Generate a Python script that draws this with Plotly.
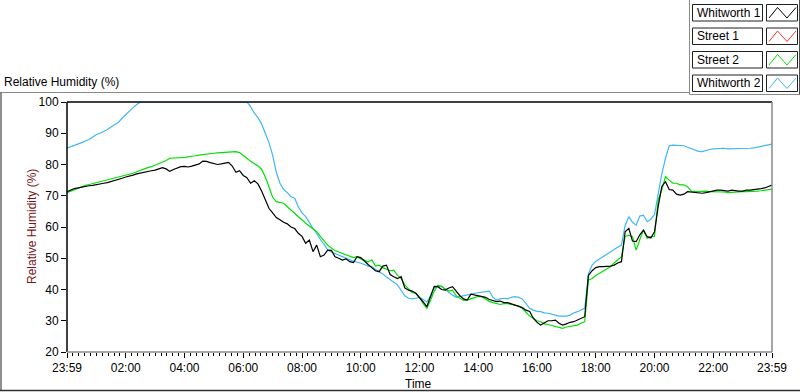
import plotly.graph_objects as go

# ---------------- data ----------------
hours = [i * 0.125 for i in range(193)]  # 0 h .. 24 h in 7.5-minute steps
tick_hours = [0, 2, 4, 6, 8, 10, 12, 14, 16, 18, 20, 22, 24]
tick_labels = ["23:59", "02:00", "04:00", "06:00", "08:00", "10:00", "12:00",
               "14:00", "16:00", "18:00", "20:00", "22:00", "23:59"]
y_ticks = [20, 30, 40, 50, 60, 70, 80, 90, 100]
series_names = ["Whitworth 1", "Street 1", "Street 2", "Whitworth 2"]

whitworth1 = [
    71.3, 71.8, 72.3, 72.5, 72.8, 72.9, 73.2, 73.3,
    73.6, 73.8, 74.0, 74.2, 74.5, 74.8, 75.2, 75.6,
    76.0, 76.2, 76.6, 77.0, 77.3, 77.5, 77.8, 78.0,
    78.2, 78.5, 79.0, 78.6, 77.8, 78.4, 78.8, 79.3,
    79.4, 79.2, 79.5, 79.8, 80.2, 81.1, 81.0, 80.6,
    80.4, 80.0, 80.2, 80.5, 80.7, 79.5, 77.5, 78.0,
    76.5, 75.8, 74.0, 74.8, 73.8, 71.5, 68.8, 66.0,
    64.5, 63.0, 62.3, 61.5, 61.0, 60.0, 59.5, 58.0,
    57.0, 54.8, 55.8, 52.1, 54.2, 50.5, 51.0, 52.6,
    52.5, 50.5, 50.0, 49.4, 49.8, 48.9, 48.6, 50.5,
    50.2, 49.0, 48.0, 47.0, 46.0, 45.7, 47.5, 47.8,
    44.8, 44.1, 43.5, 44.1, 40.5, 39.8, 39.5, 38.8,
    37.5, 36.0, 34.5, 38.0, 41.0, 40.9, 40.0, 39.8,
    40.5, 40.9, 39.5, 38.0, 37.0, 36.6, 38.5, 38.2,
    38.0, 37.7, 37.5, 36.8, 36.5, 36.1, 36.3, 35.8,
    35.8, 35.3, 35.0, 34.6, 34.2, 33.4, 33.0, 30.8,
    29.5, 28.6, 29.2, 30.0, 30.0, 30.2, 29.2, 28.6,
    29.0, 29.5, 29.7, 30.2, 30.8, 31.3, 44.5, 46.0,
    47.0, 47.3, 47.3, 47.3, 47.5, 47.8, 48.5, 48.9,
    58.5, 59.6, 55.5, 55.3, 57.5, 59.0, 56.9, 56.5,
    58.5, 66.5, 73.0, 74.5, 72.0, 71.8, 70.5, 70.2,
    70.5, 71.3, 71.2, 71.0, 70.8, 70.8, 71.0, 71.3,
    71.5, 71.8, 71.8, 71.6, 71.5, 71.8, 71.6, 71.5,
    71.5, 71.8, 71.8, 71.9, 72.0, 72.3, 72.5, 73.0,
    73.4,
]
street2 = [
    71.0, 71.5, 72.0, 72.5, 73.0, 73.3, 73.6, 73.9,
    74.2, 74.5, 74.8, 75.0, 75.3, 75.6, 76.0, 76.3,
    76.6, 76.9, 77.2, 77.7, 78.2, 78.6, 79.0, 79.3,
    79.8, 80.2, 80.6, 81.3, 82.0, 82.0, 82.2, 82.2,
    82.3, 82.4, 82.5, 82.8, 83.0, 83.2, 83.3, 83.5,
    83.6, 83.7, 83.8, 84.0, 84.0, 84.1, 84.1, 83.8,
    83.0, 82.0, 81.0, 80.3, 79.5, 78.5, 76.0, 72.9,
    69.5, 68.1, 67.8, 67.6, 66.5, 65.4, 64.3, 63.2,
    62.0, 61.2, 60.3, 59.4, 58.5, 57.0, 55.5, 54.2,
    53.3, 52.5, 52.0, 51.5, 51.0, 50.5, 50.2, 50.5,
    49.8, 49.4, 48.8, 49.5, 47.5, 47.8, 47.0, 46.5,
    46.0, 46.2, 44.5, 43.5, 41.5, 40.2, 39.0, 38.8,
    37.5, 35.5, 34.0, 36.5, 39.5, 41.4, 41.0, 40.2,
    39.5, 39.8, 38.0, 37.2, 36.5, 36.6, 37.0, 37.5,
    37.8, 37.7, 36.8, 36.2, 35.8, 35.6, 35.2, 35.5,
    35.5, 35.2, 35.0, 34.8, 34.0, 32.8, 31.5, 30.8,
    30.0, 29.7, 29.0, 28.8, 28.5, 28.0, 27.8, 27.6,
    28.0, 28.2, 28.3, 28.6, 29.2, 29.7, 43.0, 43.5,
    44.5, 45.2, 46.0, 46.6, 47.3, 48.5, 49.5, 50.5,
    57.0, 57.4, 56.9, 52.6, 56.0, 59.0, 56.4, 56.9,
    57.0, 68.6, 72.0, 76.1, 75.0, 74.0, 74.0, 73.5,
    73.5, 72.9, 71.5, 71.3, 71.3, 71.4, 71.5, 71.3,
    71.3, 71.3, 71.3, 71.2, 71.0, 71.1, 71.3, 71.3,
    71.3, 71.3, 71.3, 71.4, 71.5, 71.6, 71.8, 72.0,
    72.1,
]
whitworth2 = [
    85.2, 85.6, 86.0, 86.5, 87.0, 87.5, 88.0, 88.8,
    89.6, 90.0, 90.5, 91.2, 92.0, 92.8, 93.5, 94.8,
    96.0, 97.0, 98.2, 99.2, 100, 100, 100, 100,
    100, 100, 100, 100, 100, 100, 100, 100,
    100, 100, 100, 100, 100, 100, 100, 100,
    100, 100, 100, 100, 100, 100, 100, 100,
    100, 100, 98.5, 96.5, 95.0, 93.0, 90.0, 87.0,
    83.0, 77.5, 74.0, 72.0, 71.0, 69.7, 69.2, 66.5,
    64.5, 63.3, 61.5, 59.5, 58.0, 56.0, 54.5, 52.6,
    52.0, 51.5, 51.0, 50.3, 49.8, 49.4, 49.0, 48.8,
    48.5, 48.0, 47.5, 47.3, 46.5, 45.8, 45.0, 44.0,
    43.0, 42.3, 41.5, 39.8, 38.0, 37.2, 37.0, 37.2,
    37.5, 36.8, 36.0, 38.0, 40.5, 41.0, 41.0, 40.0,
    39.0, 38.2, 37.5, 37.7, 38.0, 38.2, 38.5, 38.8,
    39.0, 39.3, 39.3, 39.5, 37.5, 36.6, 37.0, 37.2,
    37.0, 37.5, 37.7, 37.5, 37.0, 35.5, 34.0, 33.4,
    33.0, 32.9, 32.5, 32.4, 32.0, 31.8, 31.5, 31.4,
    31.5, 31.8, 32.5, 32.9, 33.5, 34.0, 45.0, 47.8,
    49.0, 49.8, 50.5, 51.3, 52.0, 52.8, 53.5, 54.2,
    60.5, 63.3, 61.5, 60.6, 63.5, 63.8, 61.7, 62.5,
    64.0, 70.8, 77.0, 82.0, 86.0, 86.2, 86.2, 86.2,
    86.0, 85.5, 85.0, 84.6, 84.2, 84.1, 84.5, 84.8,
    85.0, 85.1, 85.2, 85.2, 85.0, 85.0, 85.0, 85.1,
    85.2, 85.2, 85.2, 85.3, 85.5, 85.7, 86.0, 86.3,
    86.5,
]

# ---------------- styling ----------------
series_colors = ["#000000", "#FF3030", "#00E000", "#3FB6F5"]
FONT = "Liberation Sans"

W, H = 800, 392
L, R, T, B = 67, 28, 102, 40
PW, PH = W - L - R, H - T - B


def px(x):
    return (x - L) / PW


def py(y):
    return (H - B - y) / PH


fig = go.Figure()
for vals, idx in [(whitworth2, 3), (street2, 2), (whitworth1, 0)]:
    fig.add_trace(go.Scatter(
        x=hours, y=vals, mode="lines", name=series_names[idx],
        line=dict(color=series_colors[idx], width=1.2), hoverinfo="x+y",
    ))

shapes = []
# plot-area frame: top/left black, bottom/right grey
shapes.append(dict(type="line", xref="paper", yref="paper", x0=0, x1=1, y0=1, y1=1,
                   line=dict(color="black", width=1.5)))
shapes.append(dict(type="line", xref="paper", yref="paper", x0=0, x1=0, y0=0, y1=1,
                   line=dict(color="black", width=1.5)))
shapes.append(dict(type="line", xref="paper", yref="paper", x0=0, x1=1, y0=0, y1=0,
                   line=dict(color="#8a8a8a", width=1.5)))
shapes.append(dict(type="line", xref="paper", yref="paper", x0=1, x1=1, y0=0, y1=1,
                   line=dict(color="#8a8a8a", width=1.5)))
# outer panel frame
shapes.append(dict(type="line", xref="paper", yref="paper", x0=px(0), x1=px(689),
                   y0=py(92.5), y1=py(92.5), line=dict(color="#8a8a8a", width=1)))
shapes.append(dict(type="line", xref="paper", yref="paper", x0=px(1), x1=px(1),
                   y0=py(92.5), y1=py(391), line=dict(color="#6a6a6a", width=1.5)))
shapes.append(dict(type="line", xref="paper", yref="paper", x0=px(0), x1=px(800),
                   y0=py(390.5), y1=py(390.5), line=dict(color="#303030", width=1.5)))
# legend panel frame
shapes.append(dict(type="line", xref="paper", yref="paper", x0=px(689.5), x1=px(689.5),
                   y0=py(0), y1=py(94.5), line=dict(color="#8a8a8a", width=1)))
shapes.append(dict(type="line", xref="paper", yref="paper", x0=px(689.5), x1=px(800),
                   y0=py(94.5), y1=py(94.5), line=dict(color="#8a8a8a", width=1)))
shapes.append(dict(type="line", xref="paper", yref="paper", x0=px(799.5), x1=px(799.5),
                   y0=py(0), y1=py(94.5), line=dict(color="#505050", width=1)))

annotations = []
for i, name in enumerate(series_names):
    top = 4.5 + 23.5 * i
    bot = top + 16.5
    shapes.append(dict(type="rect", xref="paper", yref="paper",
                       x0=px(692.5), x1=px(762.5), y0=py(bot), y1=py(top),
                       line=dict(color="#202020", width=1), fillcolor="white"))
    shapes.append(dict(type="rect", xref="paper", yref="paper",
                       x0=px(766.5), x1=px(797.5), y0=py(bot), y1=py(top),
                       line=dict(color="#202020", width=1), fillcolor="white"))
    zx = [769, 777.5, 787, 796]
    zy = [bot - 3, top + 3, bot - 3, top + 3]
    path = "M " + " L ".join(f"{px(a)},{py(b)}" for a, b in zip(zx, zy))
    shapes.append(dict(type="path", xref="paper", yref="paper", path=path,
                       line=dict(color=series_colors[i], width=1)))
    annotations.append(dict(text=name, xref="paper", yref="paper",
                            x=px(695), y=py((top + bot) / 2), xanchor="left",
                            yanchor="middle", showarrow=False,
                            font=dict(family=FONT, size=12, color="black")))

# titles
annotations.append(dict(text="Relative Humidity (%)", xref="paper", yref="paper",
                        x=px(2), y=py(82), xanchor="left", yanchor="middle",
                        showarrow=False, font=dict(family=FONT, size=12, color="black")))
annotations.append(dict(text="Relative Humidity (%)", xref="paper", yref="paper",
                        x=px(32), y=py(227), xanchor="center", yanchor="middle",
                        textangle=-90, showarrow=False,
                        font=dict(family=FONT, size=12, color="#7A1518")))
annotations.append(dict(text="Time", xref="paper", yref="paper",
                        x=px(418), y=py(384), xanchor="center", yanchor="middle",
                        showarrow=False, font=dict(family=FONT, size=12, color="black")))

fig.update_layout(
    width=W, height=H,
    margin=dict(l=L, r=R, t=T, b=B, pad=0),
    paper_bgcolor="white", plot_bgcolor="white",
    showlegend=False,
    font=dict(family=FONT, size=12, color="black"),
    shapes=shapes, annotations=annotations,
    xaxis=dict(range=[0, 24], tickmode="array", tickvals=tick_hours, ticktext=tick_labels,
               ticks="outside", ticklen=5, tickwidth=1, tickcolor="black",
               minor=dict(dtick=0.2, tick0=0, ticks="outside", ticklen=3,
                          tickwidth=1, tickcolor="black", showgrid=False),
               showgrid=False, zeroline=False, showline=False,
               tickfont=dict(family=FONT, size=12, color="black")),
    yaxis=dict(range=[20, 100], tickmode="array", tickvals=y_ticks,
               ticks="outside", ticklen=5, tickwidth=1, tickcolor="black",
               showgrid=False, zeroline=False, showline=False,
               tickfont=dict(family=FONT, size=12, color="black")),
)

fig.write_html("out.html", config={"displayModeBar": False},
               post_script="document.body.style.margin='0px';")
